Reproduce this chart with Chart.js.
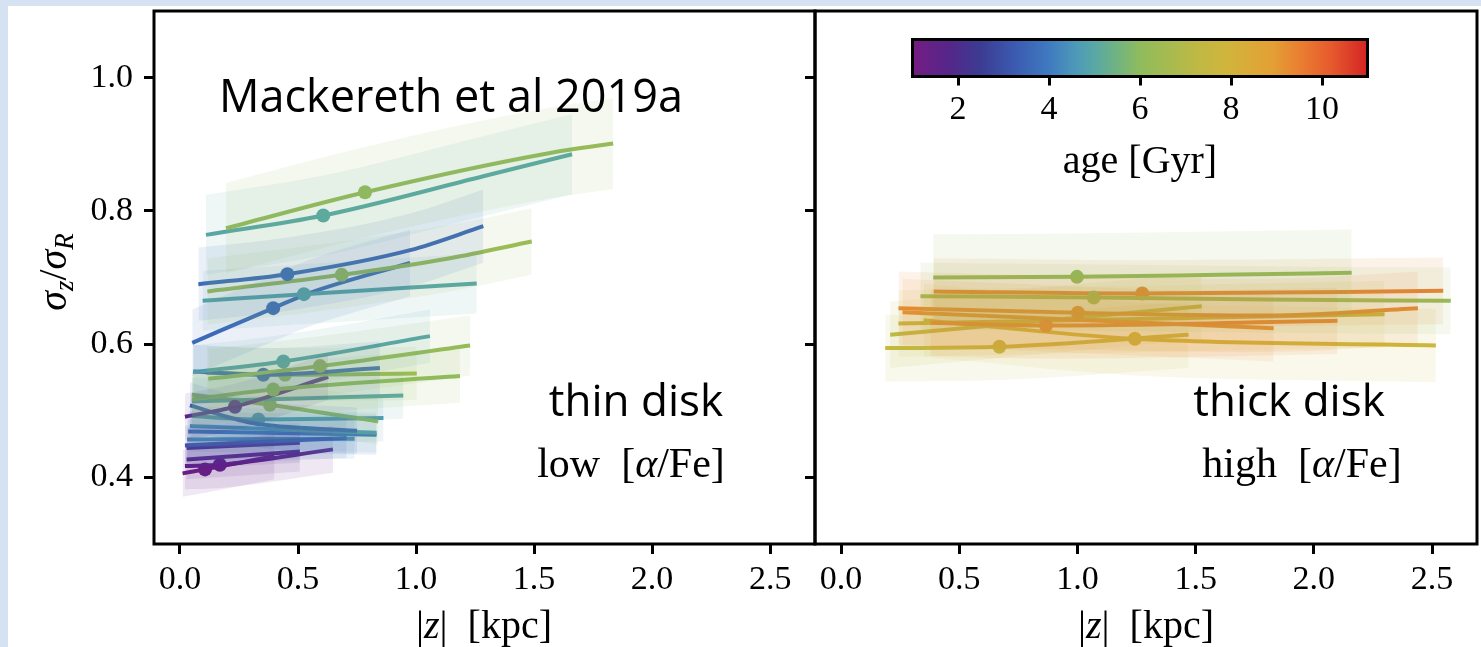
<!doctype html>
<html lang="en">
  <head>
    <title>Velocity dispersion ratio vs height</title>
    <style>
      body {
        margin: 0;
        width: 1481px;
        height: 647px;
        overflow: hidden;
        position: relative;
        background: #d4e2f1;
      }
      .sheet {
        position: absolute;
        left: 8px;
        top: 6px;
        right: 0;
        bottom: 0;
        background: #ffffff;
      }
      canvas {
        position: absolute;
      }
      #thinChart { left: 0; top: 0; }
      #thickChart { left: 800px; top: 0; }
      #ageBar { left: 880px; top: 20px; }
    </style>
  </head>

  <body>
    <div class="sheet"></div>
    <canvas id="thinChart" width="830" height="647"></canvas>
    <canvas id="thickChart" width="681" height="647"></canvas>
    <canvas id="ageBar" width="520" height="180"></canvas>

    <script src="https://cdn.jsdelivr.net/npm/chart.js@4.4.1/dist/chart.umd.min.js"></script>
    <script type="text/javascript">
      // axis ticks
      const zTicks = [0, 0.5, 1.0, 1.5, 2.0, 2.5];
      const ratioTicks = [0.4, 0.6, 0.8, 1.0];
      const ageTicks = [2, 4, 6, 8, 10];
      const ageRange = [1, 11];

      // age colour map (Gyr -> colour)
      const cmapAge = [1, 1.8, 2.5, 3.3, 4.0, 4.6, 5.0, 5.6, 6.0, 7.2, 7.9, 8.9, 9.6, 10.2, 11];
      const cmapHex = ["#751c82", "#55268a", "#3b3c92", "#3b5db2", "#3f7ac0", "#4d9ab8", "#58a8a5",
                       "#77b57a", "#8fbc5c", "#bcb945", "#d0b53c", "#e3a035", "#ea7a30", "#e65a2d", "#d42424"];

      // low [alpha/Fe] (thin disk) mono-age populations
      const thinAge = [6.2, 5.0, 3.6, 6.3, 4.9, 3.6, 4.9, 6.2, 3.6, 6.4, 6.0, 1.6, 4.9, 6.2, 3.5, 4.7, 4.8, 3.8, 3.3, 4.5, 1.9, 1.7, 1.5, 1.3];
      const thinZ = [
        [0.195, 0.784, 1.568, 1.835], [0.110, 0.607, 1.285, 1.661], [0.078, 0.455, 0.975, 1.285],
        [0.116, 0.685, 1.144, 1.490], [0.096, 0.525, 1.257], [0.052, 0.395, 0.551, 0.975],
        [0.056, 0.438, 1.059], [0.12, 0.593, 1.229], [0.056, 0.353, 0.847], [0.113, 0.445, 1.003],
        [0.05, 0.395, 1.186], [0.021, 0.233, 0.628], [0.05, 0.946], [0.05, 0.381, 0.84],
        [0.042, 0.30, 0.75], [0.05, 0.332, 0.862], [0.042, 0.833], [0.035, 0.833],
        [0.021, 0.706], [0.03, 0.74], [0.028, 0.508], [0.028, 0.508], [0.021, 0.169, 0.648], [0.011, 0.106, 0.40]
      ];
      const thinSigma = [
        [0.774, 0.828, 0.887, 0.901], [0.764, 0.793, 0.852, 0.885], [0.690, 0.705, 0.741, 0.777],
        [0.679, 0.704, 0.729, 0.754], [0.665, 0.675, 0.691], [0.602, 0.654, 0.677, 0.722],
        [0.558, 0.574, 0.612], [0.548, 0.567, 0.598], [0.559, 0.554, 0.564], [0.557, 0.554, 0.556],
        [0.517, 0.532, 0.552], [0.491, 0.506, 0.551], [0.514, 0.523], [0.524, 0.509, 0.484],
        [0.508, 0.482, 0.470], [0.492, 0.487, 0.489], [0.477, 0.467], [0.469, 0.464],
        [0.448, 0.459], [0.457, 0.458], [0.444, 0.452], [0.427, 0.439], [0.417, 0.419, 0.442], [0.406, 0.412, 0.432]
      ];
      const thinDot = [1, 1, 1, 1, 1, 1, 1, 1, 1, 1, 1, 1, -1, 1, -1, 1, -1, -1, -1, -1, -1, -1, 1, 1];
      const thinBand = [0.068, 0.06, 0.055, 0.05, 0.045, 0.05, 0.04, 0.045, 0.04, 0.04, 0.04, 0.035,
                        0.035, 0.035, 0.035, 0.035, 0.03, 0.03, 0.03, 0.03, 0.03, 0.03, 0.035, 0.035];

      // high [alpha/Fe] (thick disk) mono-age populations
      const thickAge = [6.0, 6.2, 9.5, 9.4, 9.5, 9.3, 7.5, 7.3, 7.6, 7.8];
      const thickZ = [
        [0.39, 0.998, 1.6, 2.16], [0.336, 1.069, 1.8, 2.579], [0.392, 1.274, 2.547],
        [0.243, 1.002, 1.8, 2.44], [0.378, 0.867, 2.10], [0.26, 1.83], [0.243, 2.299],
        [0.208, 1.526], [0.187, 0.670, 1.470], [0.349, 1.243, 2.516]
      ];
      const thickSigma = [
        [0.700, 0.701, 0.704, 0.707], [0.672, 0.670, 0.667, 0.665], [0.679, 0.676, 0.680],
        [0.654, 0.647, 0.643, 0.654], [0.632, 0.628, 0.635], [0.648, 0.624], [0.631, 0.645],
        [0.614, 0.657], [0.594, 0.596, 0.614], [0.636, 0.608, 0.598]
      ];
      const thickDot = [1, 1, 1, 1, 1, -1, -1, -1, 1, 1];
      const thickBand = [0.065, 0.05, 0.05, 0.055, 0.05, 0.05, 0.05, 0.05, 0.05, 0.055];

      const SERIF = '"Liberation Serif", serif';
      const SANS = '"Open Sans", sans-serif';

      function hexToRgb(hex) {
        hex = hex.replace("#", "");
        return [0, 2, 4].map((k) => parseInt(hex.substring(k, k + 2), 16));
      }

      // colour for an age
      function ageColor(age) {
        let i = 0;
        while (i < cmapAge.length - 2 && age > cmapAge[i + 1]) i++;
        const t = Math.min(1, Math.max(0, (age - cmapAge[i]) / (cmapAge[i + 1] - cmapAge[i])));
        const a = hexToRgb(cmapHex[i]);
        const b = hexToRgb(cmapHex[i + 1]);
        return a.map((v, k) => Math.round(v + (b[k] - v) * t));
      }

      function rgba(c, alpha) {
        return `rgba(${c[0]}, ${c[1]}, ${c[2]}, ${alpha})`;
      }

      function buildDatasets(ages, zs, sigmas, dots, bands) {
        const bandSets = [];
        const lineSets = [];
        ages.forEach((age, i) => {
          const col = ageColor(age);
          bandSets.push({
            data: zs[i].map((z, j) => ({ x: z, y: sigmas[i][j] + bands[i] })),
            fill: "+1",
            backgroundColor: rgba(col, 0.1),
            borderColor: "rgba(0,0,0,0)",
            pointRadius: 0,
            cubicInterpolationMode: "monotone",
          });
          bandSets.push({
            data: zs[i].map((z, j) => ({ x: z, y: sigmas[i][j] - bands[i] })),
            fill: false,
            borderColor: "rgba(0,0,0,0)",
            pointRadius: 0,
            cubicInterpolationMode: "monotone",
          });
          lineSets.push({
            data: zs[i].map((z, j) => ({ x: z, y: sigmas[i][j] })),
            fill: false,
            borderColor: rgba(col, 1),
            borderWidth: 4,
            pointRadius: zs[i].map((_, j) => (j === dots[i] ? 7 : 0)),
            pointBackgroundColor: rgba(col, 1),
            pointBorderWidth: 0,
            cubicInterpolationMode: "monotone",
          });
        });
        return bandSets.concat(lineSets);
      }

      // draws text made of parts with different fonts: [text, font, dy]
      function drawRich(ctx, parts, x, y, align) {
        let width = 0;
        parts.forEach((p) => {
          ctx.font = p[1];
          width += ctx.measureText(p[0]).width;
        });
        let cx = align === "center" ? x - width / 2 : align === "right" ? x - width : x;
        ctx.textAlign = "left";
        ctx.textBaseline = "alphabetic";
        parts.forEach((p) => {
          ctx.font = p[1];
          ctx.fillText(p[0], cx, y + (p[2] || 0));
          cx += ctx.measureText(p[0]).width;
        });
      }

      const frame = {
        id: "frame",
        afterDatasetsDraw(chart) {
          const { ctx, chartArea: a } = chart;
          ctx.save();
          ctx.strokeStyle = "#000";
          ctx.lineWidth = 3;
          ctx.strokeRect(a.left, a.top, a.right - a.left, a.bottom - a.top);
          ctx.restore();
        },
      };

      function textPlugin(items) {
        return {
          id: "texts",
          afterDraw(chart) {
            const ctx = chart.ctx;
            ctx.save();
            ctx.fillStyle = "#000";
            items(ctx);
            ctx.restore();
          },
        };
      }

      // fixed axis size, no extra room for overhanging labels
      function fixSize(size) {
        return (s) => {
          if (s.isHorizontal()) s.height = size;
          else s.width = size;
          s.paddingTop = 0;
          s.paddingBottom = 0;
          s.paddingLeft = 0;
          s.paddingRight = 0;
        };
      }

      function panelOptions(showLabels, yWidth, padRight) {
        return {
          responsive: false,
          animation: false,
          events: [],
          layout: { padding: { left: 0, right: padRight, top: 11, bottom: 0 } },
          plugins: { legend: { display: false }, tooltip: { enabled: false } },
          scales: {
            x: {
              type: "linear",
              min: -0.11,
              max: 2.69,
              afterBuildTicks: (s) => { s.ticks = zTicks.map((v) => ({ value: v })); },
              afterFit: fixSize(103),
              grid: { drawOnChartArea: false, tickLength: 10, tickWidth: 3, tickColor: "#000" },
              border: { display: false },
              ticks: {
                autoSkip: false,
                maxRotation: 0,
                padding: 6,
                color: "#000",
                font: { family: SERIF, size: 34 },
                callback: (v) => v.toFixed(1),
              },
            },
            y: {
              type: "linear",
              min: 0.3,
              max: 1.1,
              afterBuildTicks: (s) => { s.ticks = ratioTicks.map((v) => ({ value: v })); },
              afterFit: fixSize(yWidth),
              grid: { drawOnChartArea: false, tickLength: 10, tickWidth: 3, tickColor: "#000" },
              border: { display: false },
              ticks: {
                display: showLabels,
                padding: 11,
                color: "#000",
                font: { family: SERIF, size: 34 },
                callback: (v) => v.toFixed(1),
              },
            },
          },
        };
      }

      const zTitle = (font) => [["|", font(false)], ["z", font(true)], ["|  [kpc]", font(false)]];
      const serif = (size) => (italic) => `${italic ? "italic " : ""}${size}px ${SERIF}`;

      // thin disk panel
      new Chart(document.getElementById("thinChart"), {
        type: "line",
        data: { datasets: buildDatasets(thinAge, thinZ, thinSigma, thinDot, thinBand) },
        options: panelOptions(true, 154, 15),
        plugins: [
          frame,
          textPlugin((ctx) => {
            ctx.font = `45px ${SANS}`;
            ctx.textAlign = "left";
            ctx.fillText("Mackereth et al 2019a", 219, 112);
            ctx.font = `44px ${SANS}`;
            ctx.textAlign = "center";
            ctx.fillText("thin disk", 636, 416);
            const f = serif(42);
            drawRich(ctx, [["low  [", f(false)], ["\u03b1", f(true)], ["/Fe]", f(false)]], 631, 477, "center");
            drawRich(ctx, zTitle(serif(40)), 484, 638, "center");
            ctx.translate(66, 272);
            ctx.rotate(-Math.PI / 2);
            const big = serif(40);
            const sub = serif(27);
            drawRich(ctx, [["\u03c3", big(true)], ["z", sub(true), 7], ["/", big(false)],
                           ["\u03c3", big(true)], ["R", sub(true), 7]], 0, 0, "center");
          }),
        ],
      });

      // thick disk panel
      new Chart(document.getElementById("thickChart"), {
        type: "line",
        data: { datasets: buildDatasets(thickAge, thickZ, thickSigma, thickDot, thickBand) },
        options: panelOptions(false, 15, 4),
        plugins: [
          frame,
          textPlugin((ctx) => {
            ctx.font = `44px ${SANS}`;
            ctx.textAlign = "center";
            ctx.fillText("thick disk", 489, 416);
            const f = serif(42);
            drawRich(ctx, [["high  [", f(false)], ["\u03b1", f(true)], ["/Fe]", f(false)]], 502, 477, "center");
            drawRich(ctx, zTitle(serif(40)), 346, 638, "center");
          }),
        ],
      });

      // age colour bar
      new Chart(document.getElementById("ageBar"), {
        type: "bar",
        data: {
          labels: ["age"],
          datasets: [
            {
              data: [[ageRange[0], ageRange[1]]],
              barPercentage: 1,
              categoryPercentage: 1,
              borderWidth: 0,
              backgroundColor: (c) => {
                const { chart } = c;
                if (!chart.chartArea) return null;
                const x0 = chart.scales.x.getPixelForValue(ageRange[0]);
                const x1 = chart.scales.x.getPixelForValue(ageRange[1]);
                const g = chart.ctx.createLinearGradient(x0, 0, x1, 0);
                cmapAge.forEach((a, i) => g.addColorStop((a - ageRange[0]) / (ageRange[1] - ageRange[0]), cmapHex[i]));
                return g;
              },
            },
          ],
        },
        options: {
          indexAxis: "y",
          responsive: false,
          animation: false,
          events: [],
          layout: { padding: { left: 32.5, right: 32.5, top: 19.5, bottom: 0 } },
          plugins: { legend: { display: false }, tooltip: { enabled: false } },
          scales: {
            x: {
              type: "linear",
              min: ageRange[0],
              max: ageRange[1],
              afterBuildTicks: (s) => { s.ticks = ageTicks.map((v) => ({ value: v })); },
              afterFit: fixSize(123.5),
              grid: { drawOnChartArea: false, tickLength: 9, tickWidth: 3, tickColor: "#000" },
              border: { display: false },
              ticks: { padding: 4, color: "#000", font: { family: SERIF, size: 34 } },
              title: {
                display: true,
                text: "age [Gyr]",
                color: "#000",
                font: { family: SERIF, size: 40 },
                padding: { top: 0, bottom: 14 },
              },
            },
            y: { type: "category", display: false },
          },
        },
        plugins: [frame],
      });
    </script>
  </body>
</html>
